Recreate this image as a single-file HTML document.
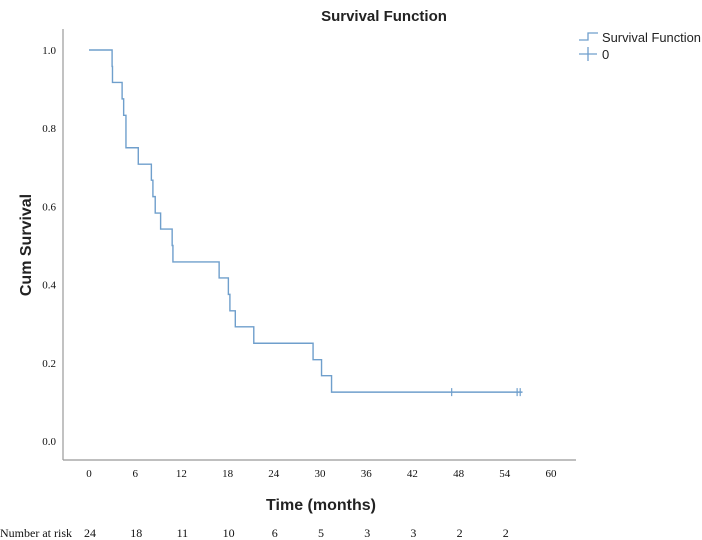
<!DOCTYPE html>
<html><head><meta charset="utf-8"><style>
html,body{margin:0;padding:0;background:#fff;width:702px;height:540px;overflow:hidden}
svg{display:block}
.t{font-family:"Liberation Sans",sans-serif;fill:#222}
.s{font-family:"Liberation Serif",serif;fill:#111}
</style></head><body>
<svg id="chart" width="702" height="540">
<text class="t" x="384" y="21" font-size="15" font-weight="bold" text-anchor="middle">Survival Function</text>
<line x1="63" y1="29" x2="63" y2="460" stroke="#999" stroke-width="1.2"/>
<line x1="63" y1="460" x2="576" y2="460" stroke="#999" stroke-width="1.2"/>
<g id="yticks"></g><g id="xticks"></g><g id="risk"></g><g id="curve"></g>
<text class="t" x="0" y="0" font-size="16" font-weight="bold" text-anchor="middle" transform="translate(31,245) rotate(-90)">Cum Survival</text>
<text class="t" x="321" y="510" font-size="16" font-weight="bold" text-anchor="middle">Time (months)</text>
<text class="s" x="0" y="537" font-size="12">Number at risk</text>
<g>
<path d="M579 40 H588 V33 H598" fill="none" stroke="#6f9fcc" stroke-width="1.3"/>
<text class="t" x="602" y="42" font-size="13" textLength="99" lengthAdjust="spacingAndGlyphs">Survival Function</text>
<line x1="579" y1="54" x2="597" y2="54" stroke="#6f9fcc" stroke-width="1.3"/>
<line x1="588" y1="47" x2="588" y2="61" stroke="#6f9fcc" stroke-width="1.3"/>
<text class="t" x="602" y="59" font-size="13">0</text>
</g>
</svg>
<script>
const eventTimes=[3.0,3.05,4.3,4.5,4.8,6.4,8.1,8.3,8.6,9.3,10.8,10.9,16.9,18.1,18.3,19.0,21.4,29.1,30.2,31.5];
const survival=[0.958,0.917,0.875,0.833,0.75,0.708,0.667,0.625,0.583,0.542,0.5,0.458,0.417,0.375,0.333,0.292,0.25,0.208,0.167,0.125];
const censorTimes=[47.1,55.6,56.0];
const lastTime=56.3;
const xTicks=[0,6,12,18,24,30,36,42,48,54,60];
const yTicks=[0.0,0.2,0.4,0.6,0.8,1.0];
const atRisk=[24,18,11,10,6,5,3,3,2,2];
const NS="http://www.w3.org/2000/svg";
function X(t){return 89+t*(462/60);}
function Y(s){return 441-s*391;}
function mk(tag,attrs,parent){const e=document.createElementNS(NS,tag);for(const k in attrs)e.setAttribute(k,attrs[k]);parent.appendChild(e);return e;}
const yt=document.getElementById('yticks');
yTicks.forEach(v=>{const e=mk('text',{class:'s',x:56,y:Y(v)+4,'font-size':11,'text-anchor':'end'},yt);e.textContent=v.toFixed(1);

});
const xt=document.getElementById('xticks');
xTicks.forEach(v=>{const e=mk('text',{class:'s',x:X(v),y:477,'font-size':11,'text-anchor':'middle'},xt);e.textContent=v;

});
const rk=document.getElementById('risk');
atRisk.forEach((v,i)=>{const e=mk('text',{class:'s',x:X(xTicks[i])+1,y:537,'font-size':12,'text-anchor':'middle'},rk);e.textContent=v;

});
const cv=document.getElementById('curve');
let d='M'+X(0)+' '+Y(1);
eventTimes.forEach((t,i)=>{d+=' H'+X(t)+' V'+Y(survival[i]);});
d+=' H'+X(lastTime);
const p=mk('path',{d:d,fill:'none',stroke:'#6f9fcc','stroke-width':1.4},cv);


const sEnd=survival[survival.length-1];
censorTimes.forEach(t=>{const l=mk('line',{x1:X(t),x2:X(t),y1:Y(sEnd)-4,y2:Y(sEnd)+4,stroke:'#6f9fcc','stroke-width':1.2},cv);

});
</script>
</body></html>
